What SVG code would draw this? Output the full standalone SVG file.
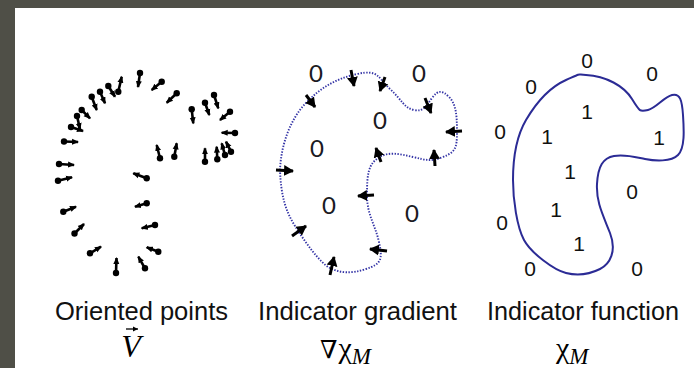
<svg xmlns="http://www.w3.org/2000/svg" width="694" height="368" viewBox="0 0 694 368">
<style>
.pin{stroke:#000;stroke-width:2.6;marker-start:url(#dot);marker-end:url(#tip)}
.ga{stroke:#000;stroke-width:3;marker-end:url(#garr)}
.g0{font-family:Lato,"Open Sans",sans-serif;font-size:24px;fill:#1a1a22;text-anchor:middle}
.f{font-family:"Liberation Sans",Arial,sans-serif;font-size:21px;fill:#111;text-anchor:middle}
.lab{font-family:"Liberation Sans",Arial,sans-serif;font-size:26px;fill:#111}
.m{font-family:"Liberation Serif","DejaVu Serif",serif;fill:#000}
</style>
<defs>
<marker id="dot" markerUnits="userSpaceOnUse" markerWidth="9" markerHeight="9" refX="4.5" refY="4.5"><circle cx="4.5" cy="4.5" r="3.2" fill="#000"/></marker>
<marker id="tip" markerUnits="userSpaceOnUse" markerWidth="8" markerHeight="8" refX="6" refY="4" orient="auto"><path d="M0,1 L7,4 L0,7 Z" fill="#000"/></marker>
<marker id="garr" markerUnits="userSpaceOnUse" markerWidth="12" markerHeight="12" refX="9" refY="6" orient="auto"><path d="M0,0.5 L10,6 L0,11.5 Z" fill="#000"/></marker>
<marker id="varr" markerUnits="userSpaceOnUse" markerWidth="6" markerHeight="6" refX="5" refY="3" orient="auto"><path d="M0,0.5 L5,3 L0,5.5 Z" fill="#000"/></marker>
</defs>
<rect x="0" y="0" width="694" height="368" fill="#fff"/>
<rect x="0" y="0" width="694" height="8" fill="#4f4f47"/>
<rect x="0" y="0" width="15" height="368" fill="#4f4f47"/>

<g id="oriented-points">
<line class="pin" x1="140" y1="73" x2="138" y2="87"/>
<line class="pin" x1="118.3" y1="91.7" x2="121.7" y2="76.7"/>
<line class="pin" x1="108.3" y1="86" x2="115" y2="96.7"/>
<line class="pin" x1="100" y1="91.7" x2="105" y2="103.3"/>
<line class="pin" x1="91.7" y1="96.7" x2="96.7" y2="110"/>
<line class="pin" x1="81.7" y1="110" x2="90" y2="118.3"/>
<line class="pin" x1="77" y1="116" x2="80" y2="129"/>
<line class="pin" x1="71" y1="127" x2="83" y2="131"/>
<line class="pin" x1="64" y1="141.5" x2="78" y2="142"/>
<line class="pin" x1="59" y1="164" x2="74" y2="165"/>
<line class="pin" x1="58" y1="180.7" x2="72" y2="177.3"/>
<line class="pin" x1="63.3" y1="211.7" x2="76" y2="206.7"/>
<line class="pin" x1="74.5" y1="233.5" x2="84" y2="224"/>
<line class="pin" x1="90" y1="253.3" x2="101" y2="246.7"/>
<line class="pin" x1="116" y1="273" x2="116.5" y2="258"/>
<line class="pin" x1="145" y1="268.3" x2="138.3" y2="256.7"/>
<line class="pin" x1="158.3" y1="251.7" x2="146.7" y2="247.3"/>
<line class="pin" x1="155" y1="225" x2="141.7" y2="228.3"/>
<line class="pin" x1="146.7" y1="203.3" x2="135" y2="206.7"/>
<line class="pin" x1="146.7" y1="178.3" x2="133.3" y2="173.3"/>
<line class="pin" x1="161.7" y1="81.7" x2="151.7" y2="90"/>
<line class="pin" x1="176.7" y1="93.3" x2="166.7" y2="102.7"/>
<line class="pin" x1="191.7" y1="109.3" x2="193.3" y2="123.3"/>
<line class="pin" x1="205" y1="102.7" x2="209.3" y2="115"/>
<line class="pin" x1="214" y1="95" x2="218.3" y2="108.3"/>
<line class="pin" x1="230" y1="111.7" x2="220" y2="120"/>
<line class="pin" x1="235" y1="133" x2="221.7" y2="132.7"/>
<line class="pin" x1="160" y1="158.3" x2="156.7" y2="145"/>
<line class="pin" x1="174.3" y1="156.7" x2="176.7" y2="143.3"/>
<line class="pin" x1="205" y1="161.7" x2="205" y2="148.3"/>
<line class="pin" x1="217.3" y1="159.3" x2="216.7" y2="146.7"/>
<line class="pin" x1="225" y1="155" x2="221.7" y2="143.3"/>
<line class="pin" x1="231" y1="151.7" x2="226" y2="141.7"/>
</g>

<g id="indicator-gradient">
<path d="M280,170 C281,145 290,120 305,104 S335,79 357,74 S378,78 390,89 S404,108 414,110 S426,106 432,98 S442,90 449,97 S457,115 457,132 S455,152 443,157 S426,160 413,157 S388,151 378,158 S367,175 367,195 S375,224 379,242 S381,264 366,269 S340,273 330,268 S305,242 295,226 S281,195 280,170 Z" fill="none" stroke="#3434a6" stroke-width="1.9" stroke-dasharray="1.4 1.5"/>
<line class="ga" x1="351" y1="70" x2="354" y2="86"/>
<line class="ga" x1="385" y1="77" x2="380" y2="91"/>
<line class="ga" x1="306" y1="95" x2="315" y2="107"/>
<line class="ga" x1="276" y1="170" x2="293" y2="171"/>
<line class="ga" x1="425" y1="98" x2="431" y2="113"/>
<line class="ga" x1="462" y1="131" x2="446" y2="132"/>
<line class="ga" x1="435" y1="166" x2="434" y2="150"/>
<line class="ga" x1="381" y1="162" x2="376" y2="148"/>
<line class="ga" x1="374" y1="195" x2="358" y2="196"/>
<line class="ga" x1="387" y1="251" x2="370" y2="249"/>
<line class="ga" x1="330" y1="275" x2="334" y2="257"/>
<line class="ga" x1="292" y1="236" x2="306" y2="226"/>
<text class="g0" x="316" y="82">0</text>
<text class="g0" x="419" y="82">0</text>
<text class="g0" x="380" y="129">0</text>
<text class="g0" x="317" y="157">0</text>
<text class="g0" x="329" y="214">0</text>
<text class="g0" x="412" y="222">0</text>
</g>

<g id="indicator-function">
<path d="M586,75 C606,76 624,86 632,99 S640,112 648,110 S664,97 672,95 S682,100 683,115 S685,148 678,155 S655,161 645,159 S625,154 614,156 S598,166 597,184 S603,215 610,233 S610,264 600,269 S578,276 566,273 S531,253 524,240 S513,200 513,180 S516,137 526,120 S548,88 566,80 S576,75 586,75 Z" fill="none" stroke="#2b2b95" stroke-width="2"/>
<text class="f" x="587" y="68">0</text>
<text class="f" x="652" y="81">0</text>
<text class="f" x="531" y="94">0</text>
<text class="f" x="500" y="139">0</text>
<text class="f" x="502" y="230">0</text>
<text class="f" x="530" y="276">0</text>
<text class="f" x="637" y="276">0</text>
<text class="f" x="632" y="199">0</text>
<text class="f" x="587" y="119">1</text>
<text class="f" x="547" y="144">1</text>
<text class="f" x="659" y="145">1</text>
<text class="f" x="570" y="179">1</text>
<text class="f" x="556" y="217">1</text>
<text class="f" x="579" y="251">1</text>
</g>

<g id="labels">
<text class="lab" x="55" y="320" textLength="173" lengthAdjust="spacingAndGlyphs">Oriented points</text>
<text class="lab" x="258" y="320" textLength="199" lengthAdjust="spacingAndGlyphs">Indicator gradient</text>
<text class="lab" x="487" y="320" textLength="192" lengthAdjust="spacingAndGlyphs">Indicator function</text>
<text class="m" x="131" y="357" font-size="32" font-style="italic" text-anchor="middle">V</text>
<line x1="126" y1="329" x2="138" y2="329" stroke="#000" stroke-width="1.3" marker-end="url(#varr)"/>
<text class="m" x="320" y="358" font-size="30"><tspan font-size="25">∇</tspan><tspan dx="1">χ</tspan><tspan font-style="italic" font-size="23" dy="6">M</tspan></text>
<text class="m" x="556" y="358" font-size="30">χ<tspan font-style="italic" font-size="23" dy="6">M</tspan></text>
</g>
</svg>
